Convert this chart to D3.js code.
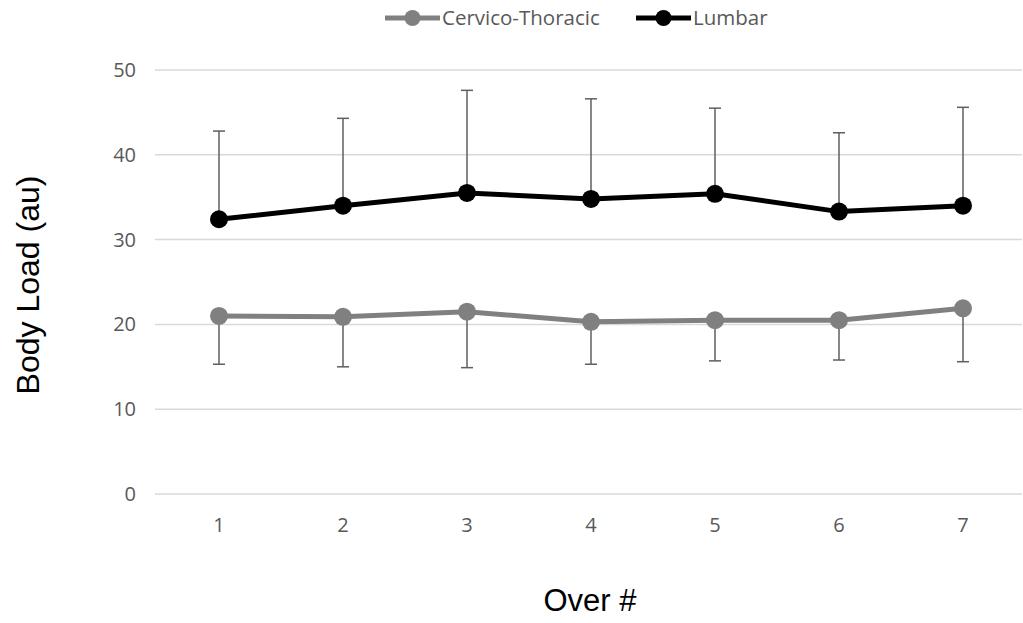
<!DOCTYPE html>
<html>
<head>
<meta charset="utf-8">
<script src="https://cdn.jsdelivr.net/npm/d3@7"></script>
<style>
  body { margin: 0; background: #fff; }
  svg { display: block; }
</style>
</head>
<body>
<svg id="chart" width="1023" height="623"></svg>
<script>
// data
const overs = ["1", "2", "3", "4", "5", "6", "7"];
const lumbar = [32.4, 34.0, 35.5, 34.8, 35.4, 33.3, 34.0];
const lumbarSD = [10.4, 10.3, 12.1, 11.8, 10.1, 9.3, 11.6];
const cervico = [21.0, 20.9, 21.5, 20.3, 20.5, 20.5, 21.9];
const cervicoSD = [5.7, 5.9, 6.6, 5.0, 4.8, 4.7, 6.3];
const yTicks = [0, 10, 20, 30, 40, 50];

const series = [
  { name: "Cervico-Thoracic", values: cervico, sd: cervicoSD, dir: -1, color: "#808080" },
  { name: "Lumbar", values: lumbar, sd: lumbarSD, dir: 1, color: "#000000" }
];

const svg = d3.select("#chart");
const plotL = 157, plotR = 1025, plotT = 70, plotB = 494;

const x = d3.scaleBand().domain(overs).range([plotL, plotR]);
const y = d3.scaleLinear().domain([0, 50]).range([plotB, plotT]);
const cx = d => x(d) + x.bandwidth() / 2;

// gridlines
svg.append("g")
  .selectAll("line")
  .data(yTicks)
  .join("line")
  .attr("x1", 155).attr("x2", 1022)
  .attr("y1", d => y(d)).attr("y2", d => y(d))
  .attr("stroke", "#d9d9d9").attr("stroke-width", 1.5);

// y tick labels
const yAxis = svg.append("g")
  .attr("transform", `translate(${plotL - 21},0)`)
  .call(d3.axisLeft(y).tickValues(yTicks).tickSize(0).tickPadding(0));
yAxis.select(".domain").remove();
yAxis.selectAll("text")
  .attr("font-family", "'Open Sans', sans-serif")
  .attr("font-size", 20).attr("fill", "#595959");

// x tick labels
const xAxis = svg.append("g")
  .attr("transform", `translate(0,${plotB + 24})`)
  .call(d3.axisBottom(x).tickSize(0).tickPadding(0));
xAxis.select(".domain").remove();
xAxis.selectAll("text")
  .attr("font-family", "'Open Sans', sans-serif")
  .attr("font-size", 20).attr("fill", "#595959");

// error bars (one-sided)
series.forEach(s => {
  const g = svg.append("g").attr("stroke", "#5f5f5f").attr("stroke-width", 1.5);
  overs.forEach((o, i) => {
    const v = s.values[i], e = v + s.dir * s.sd[i];
    g.append("line").attr("x1", cx(o)).attr("x2", cx(o))
      .attr("y1", y(v)).attr("y2", y(e));
    g.append("line").attr("x1", cx(o) - 6).attr("x2", cx(o) + 6)
      .attr("y1", y(e)).attr("y2", y(e));
  });
});

// lines and markers
const line = d3.line().x((d, i) => cx(overs[i])).y(d => y(d));
series.forEach(s => {
  svg.append("path").datum(s.values)
    .attr("d", line).attr("fill", "none")
    .attr("stroke", s.color).attr("stroke-width", 5);
  svg.append("g").selectAll("circle")
    .data(s.values).join("circle")
    .attr("cx", (d, i) => cx(overs[i])).attr("cy", d => y(d))
    .attr("r", 9).attr("fill", s.color);
});

// legend
const legendX = [385, 636];
series.forEach((s, i) => {
  const g = svg.append("g").attr("transform", `translate(${legendX[i]},18)`);
  g.append("line").attr("x1", 0).attr("x2", 55).attr("stroke", s.color).attr("stroke-width", 5);
  g.append("circle").attr("cx", 27.5).attr("r", 8).attr("fill", s.color);
  g.append("text").attr("x", 57).attr("dy", "0.35em")
    .attr("font-family", "'Open Sans', sans-serif").attr("font-size", 20.5)
    .attr("fill", "#595959").text(s.name);
});

// axis titles
svg.append("text")
  .attr("transform", `translate(39,${(plotT + plotB) / 2 + 3}) rotate(-90)`)
  .attr("text-anchor", "middle")
  .attr("font-family", "'Liberation Sans', Arial, sans-serif")
  .attr("font-size", 32).attr("fill", "#000")
  .text("Body Load (au)");

svg.append("text")
  .attr("x", 590).attr("y", 611)
  .attr("text-anchor", "middle")
  .attr("font-family", "'Liberation Sans', Arial, sans-serif")
  .attr("font-size", 31).attr("fill", "#000")
  .text("Over #");
</script>
</body>
</html>
